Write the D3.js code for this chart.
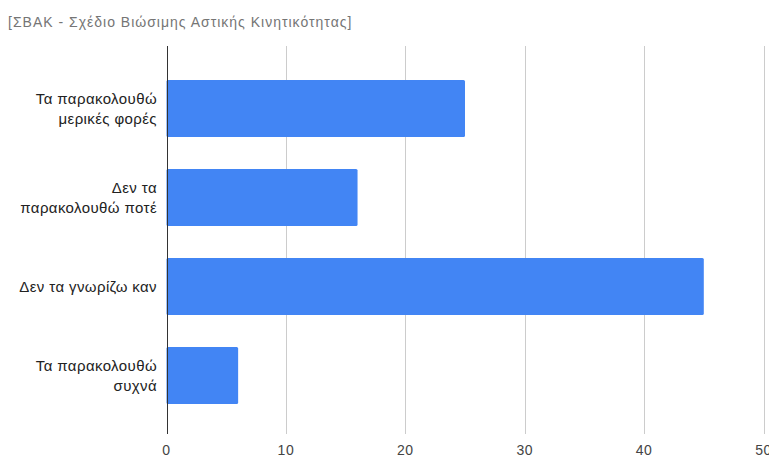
<!DOCTYPE html>
<html>
<head>
<meta charset="utf-8">
<script src="https://cdn.jsdelivr.net/npm/d3@7"></script>
<style>
  html, body { margin: 0; padding: 0; background: #fff; }
  svg { display: block; }
</style>
</head>
<body>
<svg id="chart" width="769" height="456"></svg>
<script>
// Survey answers and counts
const categories = [
  ["Τα παρακολουθώ", "μερικές φορές"],
  ["Δεν τα", "παρακολουθώ ποτέ"],
  ["Δεν τα γνωρίζω καν"],
  ["Τα παρακολουθώ", "συχνά"]
];
const values = [25, 16, 45, 6];
const xTicks = [0, 10, 20, 30, 40, 50];
const title = "[ΣΒΑΚ - Σχέδιο Βιώσιμης Αστικής Κινητικότητας]";

const svg = d3.select("#chart");
const FONT = "'Liberation Sans', Arial, sans-serif";
const left = 166.5, right = 763.5, gridTop = 46, gridBottom = 434;

const x = d3.scaleLinear().domain([0, 50]).range([left, right]);
const y = d3.scaleBand()
  .domain(d3.range(categories.length))
  .range([64, 420])
  .paddingInner(0.36)
  .paddingOuter(0.18);

// Title
svg.append("text")
  .attr("x", 8).attr("y", 27)
  .attr("font-family", FONT)
  .attr("font-size", 14)
  .attr("letter-spacing", "1px")
  .attr("fill", "#757575")
  .text(title);

// Vertical gridlines
svg.append("g").selectAll("line")
  .data(xTicks.filter(d => d !== 0))
  .join("line")
  .attr("x1", d => Math.round(x(d)) + 0.5).attr("x2", d => Math.round(x(d)) + 0.5)
  .attr("y1", gridTop).attr("y2", gridBottom)
  .attr("stroke", "#cccccc").attr("stroke-width", 1);

// Bars
svg.append("g").selectAll("rect")
  .data(values)
  .join("rect")
  .attr("x", x(0))
  .attr("y", (d, i) => y(i))
  .attr("width", d => x(d) - x(0))
  .attr("height", y.bandwidth())
  .attr("rx", 1.5)
  .attr("fill", "#4285f4");

// Baseline at zero
svg.append("line")
  .attr("x1", Math.round(x(0)) + 0.5).attr("x2", Math.round(x(0)) + 0.5)
  .attr("y1", gridTop).attr("y2", gridBottom)
  .attr("stroke", "#333333").attr("stroke-width", 1);

// Category labels (wrapped lines)
const lab = svg.append("g")
  .attr("font-family", FONT)
  .attr("font-size", 15)
  .attr("letter-spacing", "0.4px")
  .attr("fill", "#222222")
  .attr("text-anchor", "end");
categories.forEach((lines, i) => {
  const cy = y(i) + y.bandwidth() / 2;
  const lh = 20;
  const t = lab.append("text").attr("x", 157);
  lines.forEach((ln, k) => {
    t.append("tspan")
      .attr("x", 157)
      .attr("y", cy + (k - (lines.length - 1) / 2) * lh)
      .attr("dy", "0.35em")
      .text(ln);
  });
});

// X tick labels
svg.append("g")
  .attr("font-family", FONT)
  .attr("font-size", 14)
  .attr("letter-spacing", "0.5px")
  .attr("fill", "#444444")
  .attr("text-anchor", "middle")
  .selectAll("text")
  .data(xTicks)
  .join("text")
  .attr("x", d => x(d))
  .attr("y", 455)
  .text(d => d);
</script>
</body>
</html>
